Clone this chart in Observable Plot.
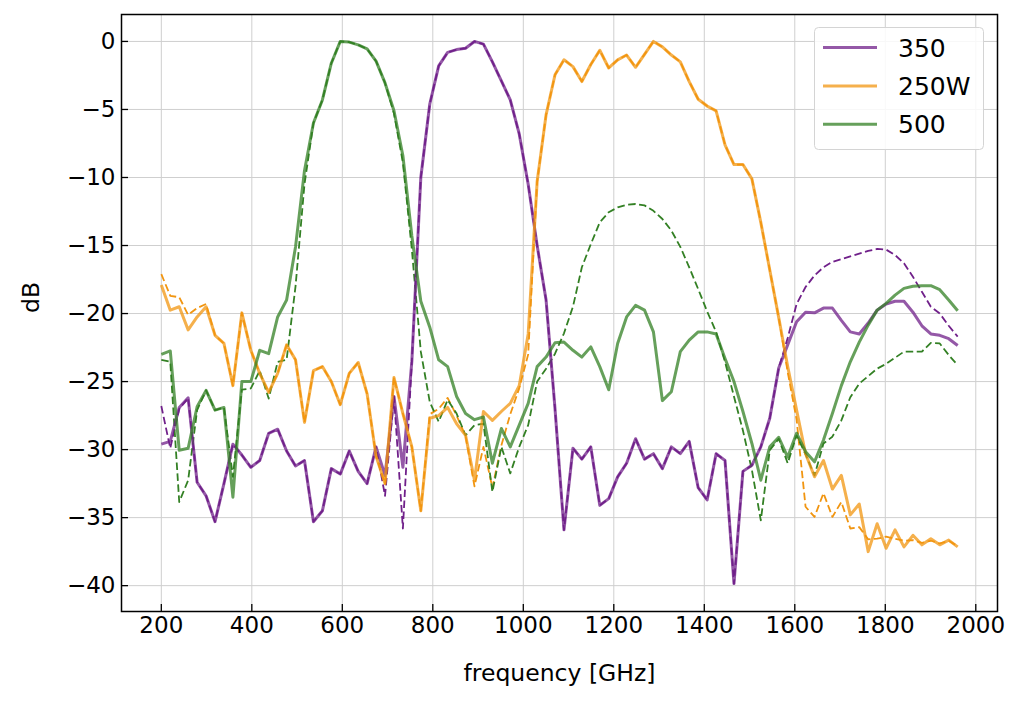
<!DOCTYPE html>
<html>
<head>
<meta charset="utf-8">
<script src="https://cdn.jsdelivr.net/npm/d3@7"></script>
<script src="https://cdn.jsdelivr.net/npm/@observablehq/plot@0.6"></script>
<style>
  html, body { margin: 0; padding: 0; background: #fff; }
  #wrap { position: relative; width: 1030px; height: 714px; font-family: "DejaVu Sans", sans-serif; }
  #legend { position: absolute; left: 814px; top: 27px; }
</style>
</head>
<body>
<div id="wrap"><div id="chart"></div><svg id="legend" width="171" height="124"></svg></div>
<script>
// Sampling frequencies [GHz]
const freq = [200.0,219.8,239.6,259.3,279.1,298.9,318.7,338.4,358.2,378.0,
  397.8,417.5,437.3,457.1,476.9,496.6,516.4,536.2,556.0,575.7,
  595.5,615.3,635.1,654.8,674.6,694.4,714.2,733.9,753.7,773.5,
  793.3,813.0,832.8,852.6,872.4,892.1,911.9,931.7,951.5,971.2,
  991.0,1010.8,1030.6,1050.3,1070.1,1089.9,1109.7,1129.4,1149.2,1169.0,
  1188.8,1208.5,1228.3,1248.1,1267.9,1287.6,1307.4,1327.2,1347.0,1366.7,
  1386.5,1406.3,1426.1,1445.8,1465.6,1485.4,1505.2,1524.9,1544.7,1564.5,
  1584.3,1604.0,1623.8,1643.6,1663.4,1683.1,1702.9,1722.7,1742.5,1762.2,
  1782.0,1801.8,1821.6,1841.3,1861.1,1880.9,1900.7,1920.4,1940.2,1960.0];

// 350 (solid / dashed), dB
const db350 = [-29.6,-29.4,-26.9,-26.2,-32.4,-33.4,-35.3,-32.5,-29.6,-30.4,
  -31.3,-30.8,-28.8,-28.5,-30.1,-31.2,-30.8,-35.3,-34.5,-31.4,
  -31.8,-30.1,-31.6,-32.5,-29.8,-31.9,-26.1,-31.3,-23.5,-10.0,
  -4.6,-1.8,-0.8,-0.6,-0.5,0.0,-0.2,-1.5,-2.9,-4.3,
  -6.8,-10.5,-15.0,-19.0,-27.0,-35.9,-29.9,-30.7,-29.8,-34.1,
  -33.6,-32.0,-31.0,-29.2,-30.7,-30.3,-31.4,-29.8,-30.3,-29.4,
  -32.8,-33.7,-30.3,-30.8,-39.85,-31.6,-31.15,-29.8,-27.7,-24.0,
  -22.3,-20.6,-19.9,-19.95,-19.6,-19.6,-20.5,-21.35,-21.5,-20.7,
  -19.75,-19.3,-19.1,-19.1,-19.9,-20.9,-21.5,-21.6,-21.85,-22.35];
const db350Dashed = [-26.8,-29.9,-27.0,-26.2,-32.4,-33.4,-35.3,-32.5,-29.6,-30.4,
  -31.3,-30.8,-28.8,-28.5,-30.1,-31.2,-30.8,-35.3,-34.5,-31.4,
  -31.8,-30.1,-31.6,-32.5,-29.8,-33.4,-26.1,-35.8,-23.5,-10.0,
  -4.6,-1.8,-0.8,-0.6,-0.5,0.0,-0.2,-1.5,-2.9,-4.3,
  -6.8,-10.5,-15.0,-19.0,-27.0,-35.9,-29.9,-30.7,-29.8,-34.1,
  -33.6,-32.0,-31.0,-29.2,-30.7,-30.3,-31.4,-29.8,-30.3,-29.4,
  -32.8,-33.7,-30.3,-30.8,-39.85,-31.6,-31.15,-29.8,-27.7,-24.0,
  -21.8,-19.3,-18.05,-17.2,-16.6,-16.2,-16.0,-15.8,-15.6,-15.4,
  -15.25,-15.3,-15.7,-16.3,-17.3,-18.4,-19.5,-20.0,-20.9,-21.7];

// 250W (solid / dashed), dB
const db250W = [-17.9,-19.75,-19.5,-21.2,-20.25,-19.5,-21.6,-22.2,-25.3,-19.95,
  -22.7,-24.4,-25.8,-24.4,-22.3,-23.4,-28.0,-24.2,-23.9,-25.0,
  -26.7,-24.4,-23.6,-25.9,-30.5,-32.5,-24.7,-27.35,-29.8,-34.5,
  -27.7,-27.5,-26.9,-28.1,-28.95,-32.25,-27.2,-27.85,-27.2,-26.6,
  -25.3,-21.5,-10.3,-5.4,-2.45,-1.35,-1.85,-2.95,-1.7,-0.65,
  -1.95,-1.35,-1.0,-1.9,-0.95,0.0,-0.4,-1.0,-1.5,-2.95,
  -4.25,-4.75,-5.1,-7.6,-9.05,-9.05,-10.1,-13.3,-16.8,-20.3,
  -23.9,-27.1,-30.3,-32.0,-30.8,-32.9,-31.9,-34.8,-34.0,-37.5,
  -35.45,-37.25,-35.9,-37.15,-36.3,-37.0,-36.55,-37.0,-36.65,-37.15];
const db250WDashed = [-17.1,-18.7,-18.8,-20.1,-19.6,-19.3,-21.6,-22.2,-25.3,-19.95,
  -22.7,-24.4,-25.8,-24.4,-22.3,-23.4,-28.0,-24.2,-23.9,-25.0,
  -26.7,-24.4,-23.6,-25.9,-30.5,-32.5,-24.7,-27.35,-29.8,-34.5,
  -27.4,-27.0,-26.2,-27.5,-29.0,-32.7,-29.8,-32.8,-29.7,-27.4,
  -25.5,-23.0,-10.3,-5.4,-2.45,-1.35,-1.85,-2.95,-1.7,-0.65,
  -1.95,-1.35,-1.0,-1.9,-0.95,0.0,-0.4,-1.0,-1.5,-2.95,
  -4.25,-4.75,-5.1,-7.6,-9.05,-9.05,-10.1,-13.3,-16.8,-20.3,
  -24.3,-27.8,-34.2,-34.95,-33.2,-34.95,-33.85,-35.8,-35.7,-36.6,
  -36.55,-36.4,-36.55,-36.7,-36.65,-36.85,-36.7,-36.9,-36.7,-37.1];

// 500 (solid / dashed), dB
const db500 = [-23.0,-22.75,-30.05,-29.9,-26.85,-25.65,-27.1,-26.9,-33.5,-25.0,
  -25.0,-22.7,-22.95,-20.25,-19.0,-15.1,-9.5,-6.0,-4.3,-1.6,
  0.0,-0.05,-0.25,-0.55,-1.45,-3.05,-5.1,-8.4,-14.3,-19.1,
  -21.0,-23.4,-23.9,-26.1,-27.35,-27.8,-27.6,-31.0,-28.45,-29.8,
  -28.2,-26.6,-23.9,-23.2,-22.15,-22.1,-22.7,-23.2,-22.45,-23.9,
  -25.6,-22.2,-20.25,-19.4,-19.75,-21.35,-26.4,-25.75,-22.8,-21.95,
  -21.35,-21.35,-21.5,-23.3,-25.0,-27.2,-29.55,-32.25,-29.8,-29.1,
  -30.55,-28.8,-30.15,-30.9,-29.3,-27.35,-25.3,-23.55,-22.1,-20.85,
  -19.75,-19.25,-18.65,-18.15,-18.0,-17.95,-17.95,-18.25,-19.0,-19.8];
const db500Dashed = [-23.4,-23.55,-33.85,-32.25,-27.1,-25.65,-27.1,-26.9,-32.0,-25.6,
  -25.5,-24.2,-26.25,-23.55,-23.4,-18.0,-10.5,-6.0,-4.3,-1.6,
  0.0,-0.05,-0.25,-0.55,-1.45,-3.05,-5.3,-8.9,-15.3,-22.8,
  -26.5,-27.95,-26.35,-27.35,-28.95,-28.2,-28.1,-33.1,-29.8,-31.75,
  -29.8,-28.2,-25.0,-24.05,-22.95,-21.45,-19.5,-16.6,-14.9,-13.3,
  -12.55,-12.2,-12.0,-11.95,-12.05,-12.45,-13.05,-13.9,-15.1,-16.6,
  -18.2,-19.85,-21.35,-23.55,-26.1,-28.6,-31.5,-35.2,-30.05,-29.2,
  -31.0,-28.95,-30.35,-31.9,-29.55,-29.05,-27.85,-26.15,-25.15,-24.6,
  -24.05,-23.7,-23.25,-22.8,-22.8,-22.8,-22.15,-22.2,-23.05,-23.8];

const seriesNames = ["350", "250W", "500"];
const seriesColors = ["#70208a", "#f19510", "#338024"];
const xTicks = [200, 400, 600, 800, 1000, 1200, 1400, 1600, 1800, 2000];
const yTicks = [0, -5, -10, -15, -20, -25, -30, -35, -40];

const solidSets = [db350, db250W, db500];
const dashedSets = [db350Dashed, db250WDashed, db500Dashed];

const solidRows = [], dashedRows = [];
seriesNames.forEach((name, s) => {
  solidSets[s].forEach((v, i) => solidRows.push({freq: freq[i], db: v, name}));
  dashedSets[s].forEach((v, i) => dashedRows.push({freq: freq[i], db: v, name}));
});

const W = 1030, H = 714;
const mL = 121, mR = 33, mT = 14, mB = 103;
const xDom = [112, 2048], yDom = [-41.9, 1.98];
const tickPx = 7;
const yTickLen = tickPx * (yDom[1] - yDom[0]) / (H - mT - mB);
const xTickLen = tickPx * (xDom[1] - xDom[0]) / (W - mL - mR);
const fmt = d => d < 0 ? "\u2212" + Math.abs(d) : String(d);
const solidOpacity = 0.75;

const chart = Plot.plot({
  width: W, height: H,
  marginLeft: mL, marginRight: mR, marginTop: mT, marginBottom: mB,
  style: {fontFamily: "DejaVu Sans", fontSize: "23px", background: "white"},
  x: {domain: xDom},
  y: {domain: yDom},
  color: {domain: seriesNames, range: seriesColors},
  marks: [
    Plot.ruleX(xTicks, {stroke: "#cfcfcf", strokeWidth: 1}),
    Plot.ruleY(yTicks, {stroke: "#cfcfcf", strokeWidth: 1}),
    Plot.line(dashedRows, {x: "freq", y: "db", z: "name", stroke: "name",
      strokeWidth: 1.8, strokeDasharray: "7.5,3.5", strokeLinecap: "butt", strokeLinejoin: "round"}),
    Plot.line(solidRows, {x: "freq", y: "db", z: "name", stroke: "name",
      strokeWidth: 3, strokeOpacity: solidOpacity, strokeLinejoin: "round", strokeLinecap: "butt"}),
    Plot.ruleX(xTicks, {y1: yDom[0], y2: yDom[0] + yTickLen, stroke: "black", strokeWidth: 1.3}),
    Plot.ruleY(yTicks, {x1: xDom[0], x2: xDom[0] + xTickLen, stroke: "black", strokeWidth: 1.3}),
    Plot.axisX({ticks: xTicks, tickSize: 0, tickPadding: 5, tickFormat: fmt, label: null, fontSize: 23}),
    Plot.axisY({ticks: yTicks, tickSize: 0, tickPadding: 6, tickFormat: fmt, label: null, fontSize: 23}),
    Plot.frame({stroke: "black", strokeWidth: 1.5}),
    Plot.text(["frequency [GHz]"], {frameAnchor: "bottom", dy: 62, lineAnchor: "middle", fontSize: 23.5, fill: "black"}),
    Plot.text(["dB"], {frameAnchor: "left", dx: -90, rotate: -90, lineAnchor: "middle", fontSize: 23.5, fill: "black"})
  ]
});
document.getElementById("chart").appendChild(chart);

// Legend (inside the axes, upper right)
const lg = d3.select("#legend");
lg.append("rect").attr("x", 0.5).attr("y", 0.5).attr("width", 169).attr("height", 122)
  .attr("rx", 4).attr("fill", "white").attr("fill-opacity", 0.85)
  .attr("stroke", "#d4d4d4").attr("stroke-width", 1);
seriesNames.forEach((name, i) => {
  const cy = 20.5 + i * 38.4;
  lg.append("line").attr("x1", 9).attr("x2", 63).attr("y1", cy).attr("y2", cy)
    .attr("stroke", seriesColors[i]).attr("stroke-opacity", solidOpacity).attr("stroke-width", 3);
  lg.append("text").attr("x", 84).attr("y", cy).attr("dy", "0.36em")
    .attr("font-family", "DejaVu Sans").attr("font-size", 25).attr("fill", "black").text(name);
});
</script>
</body>
</html>
